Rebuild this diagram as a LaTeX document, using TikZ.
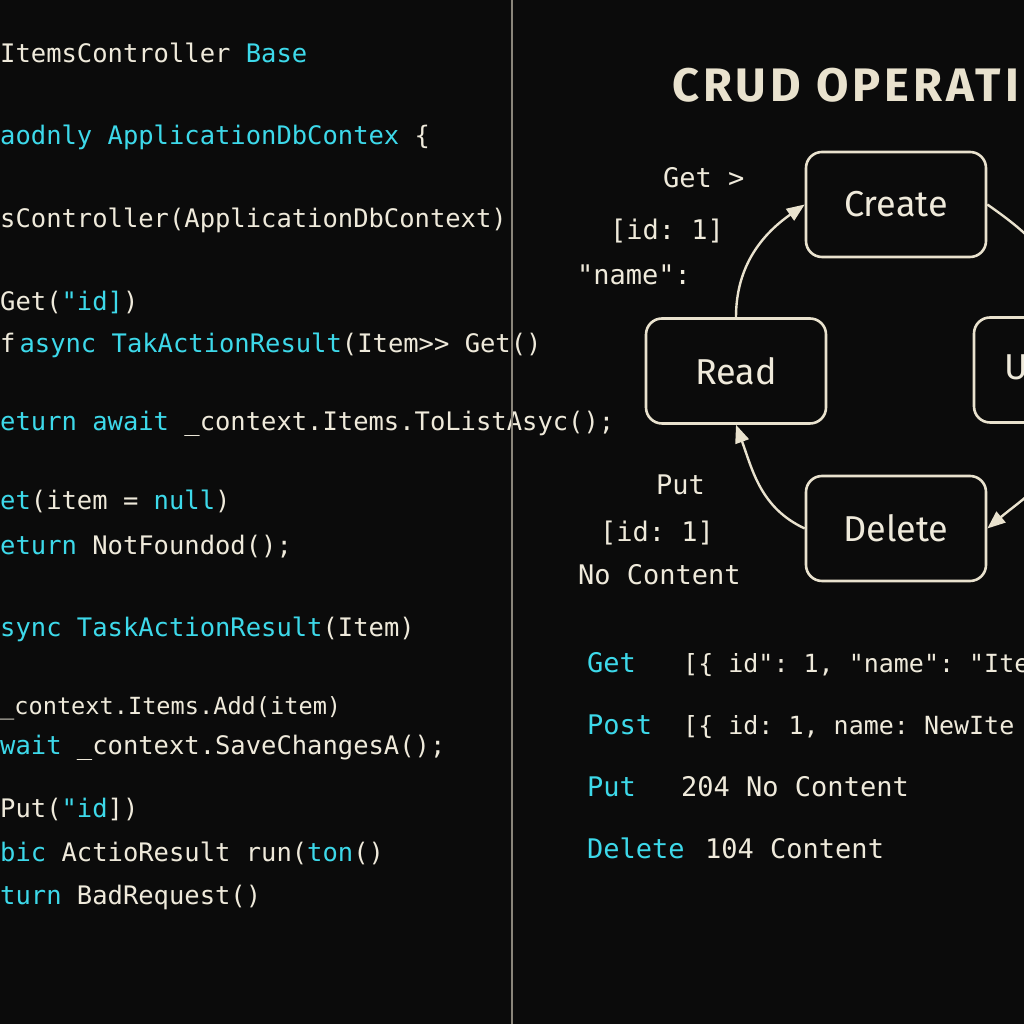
\documentclass[tikz,border=0pt]{standalone}
\usepackage{fontspec}
\setmonofont{DejaVu Sans Mono}
\newfontfamily\sansf{Fira Sans}
\newfontfamily\titlef[LetterSpace=8.5]{Fira Sans}
\usetikzlibrary{arrows.meta}
\definecolor{bg}{HTML}{0B0B0B}
\definecolor{fg}{HTML}{EFEADB}
\definecolor{cy}{HTML}{3DD9EA}
\definecolor{ln}{HTML}{E9E2CE}
\definecolor{dv}{HTML}{8A857A}
\begin{document}
\begin{tikzpicture}[x=1pt,y=1pt,
 code/.style={anchor=base west,inner sep=0pt,text=fg,font=\ttfamily\fontsize{25.5}{30}\selectfont},
 lbl/.style={anchor=base west,inner sep=0pt,text=fg,font=\ttfamily\fontsize{27}{32}\selectfont},
 op/.style={draw=ln,fill=bg,line width=2.6pt,rounded corners=16pt,minimum width=180pt,minimum height=105pt,text=fg,font=\sansf\fontsize{36}{40}\selectfont},
 flow/.style={draw=ln,line width=2.4pt,-{Triangle[length=18pt,width=14pt]}},
 link/.style={draw=ln,line width=2.4pt}]
\fill[bg] (0,0) rectangle (1024,1024);
\useasboundingbox (0,0) rectangle (1024,1024);
\clip (0,0) rectangle (1024,1024);
% code panel
\node[code] (c1) at (0,961) {ItemsController \textcolor{cy}{Base}};
\node[code] (c2) at (0,879) {\textcolor{cy}{aodnly ApplicationDbContex} \{};
\node[code] (c3) at (0,796) {sController(ApplicationDbContext)};
\node[code] (c4) at (0,713) {Get(\textcolor{cy}{"id]})};
\node[code] (c5) at (0,671) {f\kern4pt\textcolor{cy}{async TakActionResult}(Item>> Get()};
\node[code] (c6) at (0,593) {\textcolor{cy}{eturn await} \_context.Items.ToListAsyc();};
\node[code] (c7) at (0,514) {\textcolor{cy}{et}(item = \textcolor{cy}{null})};
\node[code] (c8) at (0,469) {\textcolor{cy}{eturn} NotFoundod();};
\node[code] (c9) at (0,387) {\textcolor{cy}{sync TaskActionResult}(Item)};
\node[code,font=\ttfamily\fontsize{23.6}{28}\selectfont] (c10) at (0,309) {\_context.Items.Add(item)};
\node[code] (c11) at (0,269) {\textcolor{cy}{wait} \_context.SaveChangesA();};
\node[code] (c12) at (0,206) {Put(\textcolor{cy}{"id}])};
\node[code] (c13) at (0,162) {\textcolor{cy}{bic} ActioResult run(\textcolor{cy}{ton}()};
\node[code] (c14) at (0,119) {\textcolor{cy}{turn} BadRequest()};
% divider
\draw[dv,line width=1.5pt] (512,0) -- (512,1024);
% title
\node[anchor=base west,inner sep=0pt,text=ln,font=\titlef\bfseries\fontsize{47}{50}\selectfont] (title) at (672,922) {CRUD OPERATI};
% boxes
\node[op] (create) at (896,819.5) {Create};
\node[op] (read) at (736,653) {Read};
\node[op] (update) at (1064,654) {Update};
\node[op] (delete) at (896,495.5) {Delete};
% cycle
\draw[flow] (read.north) to[out=90,in=-145] (create.west);
\draw[link] (create.east) to[out=-35,in=90] (update.north);
\draw[flow] (update.south) to[out=-90,in=40] (delete.east);
\draw[flow] (delete.west) to[out=155,in=-70] (read.south);
% side labels
\node[lbl] (g1) at (663,836) {Get >};
\node[lbl] (g2) at (610,784) {[id: 1]};
\node[lbl] (g3) at (577,739) {"name":};
\node[lbl] (p1) at (656,529) {Put};
\node[lbl] (p2) at (600,482) {[id: 1]};
\node[lbl] (p3) at (578,439) {No Content};
% table
\node[lbl,text=cy] (tg) at (587,351) {Get};
\node[lbl,font=\ttfamily\fontsize{25}{30}\selectfont] (tgv) at (683,351) {[\{ id": 1, "name": "Ite};
\node[lbl,text=cy] (tp) at (587,289) {Post};
\node[lbl,font=\ttfamily\fontsize{25}{30}\selectfont] (tpv) at (683,289) {[\{ id: 1, name: NewIte};
\node[lbl,text=cy] (tu) at (587,227) {Put};
\node[lbl] (tuv) at (681,227) {204 No Content};
\node[lbl,text=cy] (td) at (587,165) {Delete};
\node[lbl] (tdv) at (705,165) {104 Content};
\end{tikzpicture}
\end{document}
